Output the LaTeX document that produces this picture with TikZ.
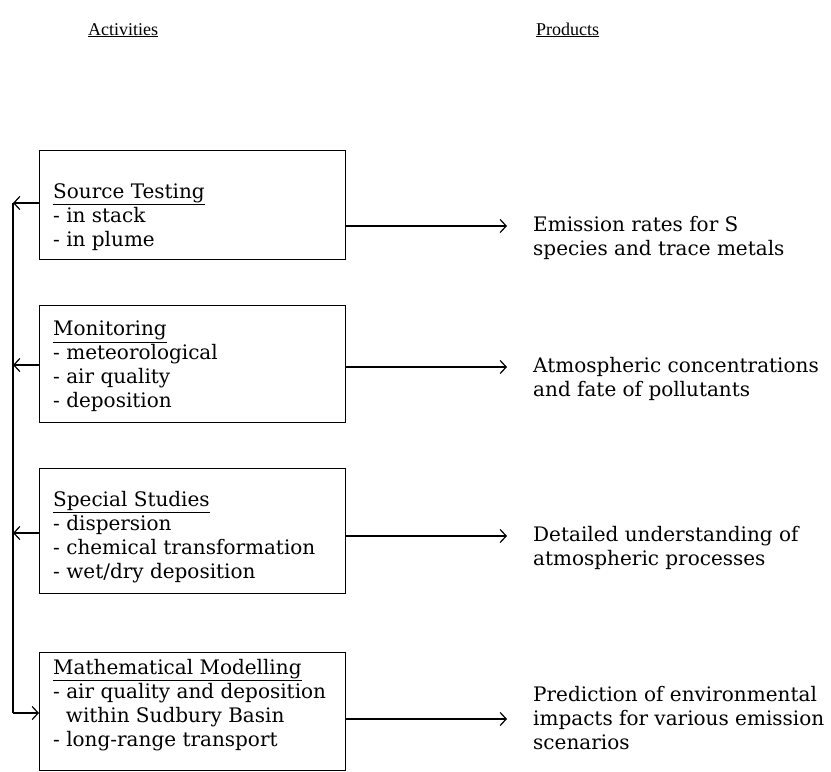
\documentclass[tikz,border=0pt]{standalone}
\usepackage{fontspec}
\setmainfont{DejaVu Serif}
\newfontfamily\headfont{Liberation Serif}
\usetikzlibrary{positioning,arrows.meta}
\tikzset{
    flow/.style={line width=1.2pt, -{Straight Barb[length=6pt,width=13pt]}},
    bus/.style={line width=1.2pt},
    actbox/.style={draw, line width=1.2pt, anchor=north west, inner sep=0pt,
      minimum width=306pt},
    acttext/.style={anchor=north west, align=left, inner sep=0pt,
      font=\fontsize{20}{24}\selectfont},
    prodtext/.style={anchor=north west, align=left, inner sep=0pt,
      font=\fontsize{20}{24}\selectfont},
    headtext/.style={anchor=base west, inner sep=0pt,
      font=\headfont\fontsize{18}{20}\selectfont}
}

\begin{document}
\begin{tikzpicture}[x=1pt,y=1pt]
    \useasboundingbox (0,0) rectangle (831,-772);
    \node[headtext] (acth) at (88,-35) {\underline{Activities}};
    \node[headtext] (prodh) at (536,-35) {\underline{Products}};

    \node[actbox, minimum height=109] (src) at (39,-150) {};
    \node[acttext] (srct) at (53,-183)
      {\underline{Source Testing}\\- in stack\\- in plume};
    \node[actbox, minimum height=117] (mon) at (39,-305) {};
    \node[acttext] (mont) at (53,-321)
      {\underline{Monitoring}\\- meteorological\\- air quality\\- deposition};
    \node[actbox, minimum height=125] (spec) at (39,-468) {};
    \node[acttext] (spect) at (53,-491)
      {\underline{Special Studies}\\- dispersion\\- chemical transformation\\- wet/dry deposition};
    \node[actbox, minimum height=118] (mod) at (39,-652) {};
    \node[acttext] (modt) at (53,-659)
      {\underline{Mathematical Modelling}\\- air quality and deposition\\
       \ \ within Sudbury Basin\\- long-range transport};

    \node[prodtext] (emis) at (533,-216) {Emission rates for S\\species and trace metals};
    \node[prodtext] (conc) at (533,-357) {Atmospheric concentrations\\and fate of pollutants};
    \node[prodtext] (proc) at (533,-526) {Detailed understanding of\\atmospheric processes};
    \node[prodtext] (pred) at (533,-686)
      {Prediction of environmental\\impacts for various emission\\scenarios};

    \coordinate (b1) at (13,-203);
    \coordinate (b2) at (13,-365);
    \coordinate (b3) at (13,-533);
    \coordinate (b4) at (13,-713);
    \draw[bus] (b1) -- (b4);
    \foreach \bx/\bc in {src/b1, mon/b2, spec/b3} {
      \draw[flow] (\bx.west |- \bc) -- (\bc);
    }
    \draw[flow] (b4) -- (mod.west |- b4);

    \coordinate (p1) at (507,-226);
    \coordinate (p2) at (507,-367);
    \coordinate (p3) at (507,-536);
    \coordinate (p4) at (507,-719);
    \foreach \bx/\pc in {src/p1, mon/p2, spec/p3, mod/p4} {
      \draw[flow] (\bx.east |- \pc) -- (\pc);
    }
\end{tikzpicture}
\end{document}
